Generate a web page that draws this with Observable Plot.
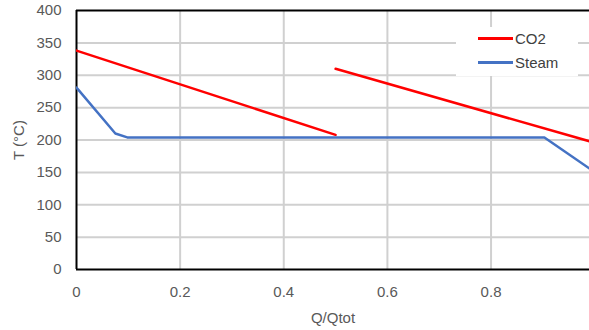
<!DOCTYPE html>
<html>
<head>
<meta charset="utf-8">
<script src="https://cdn.jsdelivr.net/npm/d3@7"></script>
<script src="https://cdn.jsdelivr.net/npm/@observablehq/plot@0.6"></script>
<style>
  html, body { margin: 0; padding: 0; background: #fff; }
  #chart { position: relative; width: 589px; height: 330px; overflow: hidden; font-family: "Liberation Sans", Arial, sans-serif; }
  .legend { position: absolute; left: 456px; top: 27px; width: 122px; height: 49px; background: #fff; }
  .legend .item { position: absolute; left: 22px; display: flex; align-items: center; font-size: 15px; color: #404040; }
  .legend .swatch { width: 35px; height: 0; border-top: 3px solid; margin-right: 2px; }
</style>
</head>
<body>
<div id="chart"></div>
<script>
// Heat-exchanger temperature profiles vs. fraction of transferred heat
const seriesNames = ["CO2", "Steam"];
const seriesColors = ["#ff0000", "#4472c4"];

// CO2 side: two separate runs (segment id keeps them unconnected)
const co2Q = [0, 0.5, 0.5, 0.99];
const co2T = [338, 208, 310, 198];
const co2Seg = [1, 1, 2, 2];

// Steam side: superheated cooling, condensing plateau, subcooling
const steamQ = [0, 0.075, 0.098, 0.903, 0.99];
const steamT = [281, 210, 204, 204, 156];

const xTicks = [0, 0.2, 0.4, 0.6, 0.8];
const yTicks = [0, 50, 100, 150, 200, 250, 300, 350, 400];

const co2 = co2Q.map((q, i) => ({q, t: co2T[i], seg: "CO2-" + co2Seg[i]}));
const steam = steamQ.map((q, i) => ({q, t: steamT[i], seg: "Steam"}));

const plot = Plot.plot({
  width: 589,
  height: 330,
  marginLeft: 76,
  marginRight: 0,
  marginTop: 10,
  marginBottom: 61,
  style: {fontFamily: "Liberation Sans, Arial, sans-serif", fontSize: "15px", color: "#595959", background: "#fff"},
  x: {domain: [0, 0.99], ticks: xTicks, tickSize: 0, tickPadding: 17, label: "Q/Qtot", labelArrow: "none", labelAnchor: "center", labelOffset: 53, tickFormat: d => String(d)},
  y: {domain: [0, 400], ticks: yTicks, tickSize: 0, tickPadding: 15, label: "T (°C)", labelArrow: "none", labelAnchor: "center", labelOffset: 63},
  marks: [
    Plot.gridX(xTicks.filter(d => d > 0), {stroke: "#d0d0d0", strokeOpacity: 1, strokeWidth: 2}),
    Plot.gridY(yTicks.filter(d => d > 0 && d < 400), {stroke: "#d0d0d0", strokeOpacity: 1, strokeWidth: 2}),
    Plot.ruleY([400], {stroke: "#000", strokeWidth: 2}),
    Plot.ruleX([0], {stroke: "#000", strokeWidth: 2}),
    Plot.ruleY([0], {stroke: "#000", strokeWidth: 2}),
    Plot.line(steam, {x: "q", y: "t", z: "seg", stroke: seriesColors[1], strokeWidth: 2.5, clip: true}),
    Plot.line(co2, {x: "q", y: "t", z: "seg", stroke: seriesColors[0], strokeWidth: 2.5, clip: true})
  ]
});

const chart = document.getElementById("chart");
chart.appendChild(plot);

// legend box drawn over the grid
const legend = document.createElement("div");
legend.className = "legend";
seriesNames.forEach((name, i) => {
  const item = document.createElement("div");
  item.className = "item";
  item.style.top = (3 + i * 24) + "px";
  const sw = document.createElement("span");
  sw.className = "swatch";
  sw.style.borderColor = seriesColors[i];
  const label = document.createElement("span");
  label.textContent = name;
  item.appendChild(sw);
  item.appendChild(label);
  legend.appendChild(item);
});
chart.appendChild(legend);
</script>
</body>
</html>
